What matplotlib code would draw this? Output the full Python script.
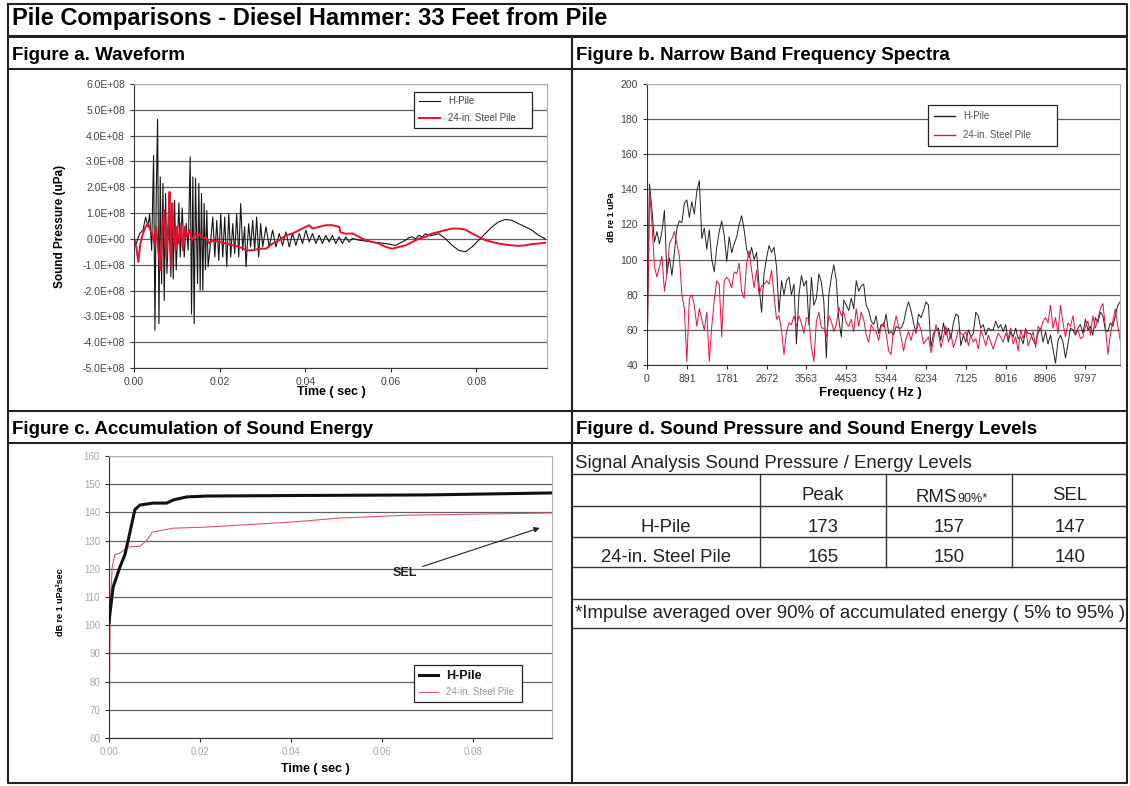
import matplotlib
matplotlib.use('Agg')
import matplotlib.pyplot as plt
import numpy as np
from matplotlib.ticker import FuncFormatter

plt.rcParams['font.family'] = ['Liberation Sans', 'DejaVu Sans']

W, H = 1130, 786

title = 'Pile Comparisons - Diesel Hammer: 33 Feet from Pile'
headers = ['Figure a. Waveform', 'Figure b. Narrow Band Frequency Spectra',
           'Figure c. Accumulation of Sound Energy',
           'Figure d. Sound Pressure and Sound Energy Levels']
series_names = ['H-Pile', '24-in. Steel Pile']

# Figure a: waveform (time in s, pressure in 1e8 uPa)
wave_t_h = [0.0, 0.00054, 0.00132, 0.0021, 0.00272, 0.00326, 0.00365, 0.00412, 0.00458, 0.00489,
            0.0052, 0.00551, 0.00583, 0.00614, 0.00645, 0.00676, 0.00707, 0.00738, 0.00769, 0.00816,
            0.00862, 0.00885, 0.00917, 0.00948, 0.00986, 0.01049, 0.0108, 0.01126, 0.01173, 0.0122,
            0.01266, 0.01313, 0.01344, 0.01375, 0.01406, 0.01437, 0.01484, 0.01515, 0.01546, 0.01577,
            0.01608, 0.01639, 0.0167, 0.01701, 0.01732, 0.01779, 0.01841, 0.01888, 0.01934, 0.01981,
            0.02027, 0.02074, 0.0212, 0.02167, 0.02214, 0.0226, 0.02307, 0.02353, 0.024, 0.02447,
            0.02493, 0.0254, 0.02586, 0.02617, 0.02679, 0.02726, 0.02773, 0.02819, 0.02866, 0.02912,
            0.02959, 0.03006, 0.03083, 0.03161, 0.03239, 0.03317, 0.03394, 0.03472, 0.0355, 0.03628,
            0.03705, 0.03783, 0.03861, 0.03938, 0.04016, 0.04094, 0.04171, 0.04249, 0.04327, 0.04404,
            0.04482, 0.0456, 0.04637, 0.04715, 0.04792, 0.0487, 0.04948, 0.05025, 0.05103, 0.05258,
            0.05569, 0.0588, 0.06113, 0.06268, 0.06346, 0.06423, 0.06501, 0.06579, 0.06656, 0.06734,
            0.06812, 0.06889, 0.06967, 0.07122, 0.07277, 0.07433, 0.07588, 0.07743, 0.07899, 0.08054,
            0.08209, 0.08365, 0.0852, 0.08675, 0.08831, 0.08986, 0.09142, 0.09297, 0.09452, 0.09608]
wave_h = [0, -0.18, 0.21, 0.34, 0.85, 0.47, 0.98, -0.44, 3.23, -3.54,
          1.76, 4.63, -3.28, 2.4, -1.73, 2.15, -2.38, 1.76, -1.34, 0.98,
          -1.47, 1.4, -1.55, 1.5, -1.2, 1.4, -0.7, 1.2, -0.7, 0.6,
          -0.44, 3.18, -2.91, 2.4, -3.28, 2.35, -1.73, 2.15, -1.99, 1.76,
          -1.99, 1.37, -1.2, 1.1, -1.08, -0.3, 0.85, -0.7, 0.72, -0.83,
          0.98, -0.7, 0.85, -1.08, 0.98, -0.7, 0.59, -0.57, 0.98, -0.7,
          1.37, -0.44, 0.47, -1.08, 0.59, -0.31, 0.72, -0.44, 0.85, -0.7,
          0.59, -0.31, 0.47, -0.31, 0.34, -0.31, 0.21, -0.25, 0.27, -0.31,
          0.21, -0.25, 0.21, -0.18, 0.34, -0.12, 0.21, -0.18, 0.14, -0.18,
          0.14, -0.12, 0.14, -0.18, 0.08, -0.18, 0.08, -0.12, 0.02, -0.05,
          -0.12, -0.18, -0.25, -0.12, -0.05, 0.05, 0.08, 0.0, 0.14, 0.08,
          0.2, 0.12, 0.14, 0.2, 0.01, -0.25, -0.44, -0.5, -0.31, -0.05,
          0.21, 0.47, 0.66, 0.75, 0.72, 0.59, 0.47, 0.34, 0.14, 0.0]

wave_t_s = [0.0, 0.00054, 0.00101, 0.00148, 0.0021, 0.00272, 0.00326, 0.00381, 0.00427, 0.00474,
            0.0052, 0.00567, 0.00614, 0.0066, 0.00707, 0.00753, 0.008, 0.00831, 0.00862, 0.00893,
            0.00924, 0.00971, 0.01002, 0.01049, 0.01095, 0.01142, 0.01188, 0.01235, 0.01297, 0.01359,
            0.01421, 0.01483, 0.01546, 0.01608, 0.01685, 0.01763, 0.01841, 0.01996, 0.02151, 0.02307,
            0.02462, 0.02617, 0.02773, 0.02928, 0.03083, 0.03239, 0.03394, 0.0355, 0.03705, 0.03861,
            0.04016, 0.04094, 0.04171, 0.04327, 0.04482, 0.04637, 0.04792, 0.04831, 0.04948, 0.05103,
            0.05258, 0.05413, 0.05569, 0.05724, 0.0588, 0.06035, 0.0619, 0.06346, 0.06501, 0.06656,
            0.06812, 0.06967, 0.07122, 0.07277, 0.07433, 0.07588, 0.07743, 0.07899, 0.08054, 0.08209,
            0.08365, 0.0852, 0.08675, 0.08831, 0.08986, 0.09142, 0.09297, 0.09452, 0.09608]
wave_s = [0, -0.31, -0.89, -0.18, 0.21, 0.47, 0.59, 0.34, 0.21, -0.18,
          0.47, -0.44, -1.21, 0.34, 1.11, -0.7, 0.59, 1.82, -1.08, 1.37,
          0.47, -0.44, 0.47, -0.18, 0.59, -0.44, 0.47, 0.08, 0.34, -0.05,
          0.21, 0.08, 0.21, 0.01, 0.08, -0.18, -0.05, -0.12, -0.18, -0.25,
          -0.31, -0.44, -0.44, -0.38, -0.38, -0.18, -0.05, 0.14, 0.21, 0.34,
          0.47, 0.53, 0.4, 0.47, 0.53, 0.53, 0.47, 0.25, 0.2, 0.21,
          0.08, -0.05, -0.12, -0.18, -0.31, -0.38, -0.31, -0.25, -0.12, 0.01,
          0.08, 0.21, 0.27, 0.34, 0.4, 0.4, 0.36, 0.21, 0.08, -0.05,
          -0.12, -0.18, -0.22, -0.25, -0.27, -0.25, -0.2, -0.18, -0.15]

# Figure b: narrow band spectra (dB re 1 uPa), one value per frequency bin
bin_hz = 890.625 / 16
spec_h = [40, 143, 128, 110, 116, 109, 116, 128, 92, 101, 91, 104, 118, 122, 121, 132, 134, 124, 133, 126,
          139, 145, 112, 118, 106, 117, 100, 93, 107, 116, 122, 114, 99, 113, 104, 109, 113, 120, 125, 117,
          106, 101, 107, 100, 104, 85, 70, 92, 101, 108, 104, 107, 96, 70, 88, 80, 88, 90, 80, 86,
          52, 80, 91, 85, 88, 63, 90, 74, 78, 92, 87, 76, 44, 80, 90, 97, 88, 66, 56, 77,
          74, 71, 78, 72, 88, 82, 85, 86, 74, 71, 65, 63, 68, 58, 63, 62, 69, 58, 59, 57,
          62, 61, 61, 64, 71, 76, 71, 64, 58, 69, 67, 71, 76, 74, 50, 58, 60, 61, 54, 64,
          57, 61, 55, 64, 69, 68, 51, 57, 53, 60, 56, 58, 70, 68, 61, 63, 57, 61, 60, 60,
          65, 61, 63, 59, 63, 53, 59, 56, 61, 55, 56, 52, 60, 58, 58, 54, 52, 58, 61, 53,
          59, 52, 57, 49, 41, 54, 57, 53, 44, 52, 61, 60, 57, 61, 63, 58, 66, 60, 62, 57,
          67, 64, 70, 68, 60, 59, 64, 62, 68, 74, 76, 70]
spec_s = [40, 140, 120, 96, 90, 96, 102, 82, 92, 109, 112, 116, 109, 102, 80, 72, 42, 78, 80, 74,
          62, 72, 66, 60, 70, 42, 62, 77, 88, 86, 56, 88, 90, 88, 84, 93, 92, 98, 82, 78,
          98, 105, 94, 84, 94, 80, 85, 86, 88, 86, 94, 80, 66, 68, 60, 46, 59, 64, 63, 68,
          62, 68, 64, 58, 67, 66, 50, 42, 65, 70, 61, 61, 56, 68, 65, 59, 63, 73, 68, 70,
          64, 62, 66, 59, 72, 62, 70, 66, 57, 53, 63, 60, 59, 54, 62, 64, 58, 48, 46, 61,
          68, 62, 56, 48, 55, 59, 54, 60, 59, 64, 60, 52, 54, 56, 47, 54, 63, 58, 50, 56,
          62, 53, 58, 50, 54, 60, 58, 57, 59, 51, 57, 53, 55, 49, 60, 56, 51, 57, 53, 49,
          54, 58, 56, 53, 58, 55, 61, 52, 56, 48, 60, 55, 61, 51, 55, 59, 50, 62, 60, 65,
          67, 64, 74, 61, 67, 58, 74, 64, 56, 64, 62, 68, 58, 60, 55, 56, 62, 65, 57, 68,
          61, 66, 72, 75, 62, 46, 57, 65, 72, 62, 54, 50]
freq_tick_labels = ['0', '891', '1781', '2672', '3563', '4453', '5344', '6234',
                    '7125', '8016', '8906', '9797']

# Figure c: accumulated sound energy (dB re 1 uPa^2 sec)
sel_t_h = [0.0, 0.0003, 0.0009, 0.0024, 0.0035, 0.0042, 0.0057, 0.0068, 0.0097, 0.0127,
           0.0141, 0.0171, 0.0215, 0.042, 0.07, 0.0974]
sel_db_h = [101, 105.4, 113.5, 120.6, 125, 130, 141, 142.6, 143.3, 143.3,
            144.4, 145.5, 145.8, 146, 146.2, 146.9]
sel_t_s = [0.0, 0.0003, 0.0007, 0.0013, 0.0024, 0.0042, 0.0068, 0.0084, 0.0095, 0.0141,
           0.0215, 0.0404, 0.0508, 0.0655, 0.0974]
sel_db_s = [60, 108, 120.6, 125, 125.6, 127.7, 128, 130.2, 133, 134.4,
            134.8, 136.6, 138, 139, 139.8]

# Figure d: table
table_title = 'Signal Analysis Sound Pressure / Energy Levels'
peak_db = [173, 165]
rms_db = [157, 150]
sel_db = [147, 140]
footnote = '*Impulse averaged over 90% of accumulated energy ( 5% to 95% )'


def rect(l, t, r, b):
    return [l / W, 1 - b / H, (r - l) / W, (b - t) / H]


def style_axes(ax, labelcolor='#444', size=7.5):
    for s in ['top', 'right']:
        ax.spines[s].set_color('#b0b0b0')
    for s in ['left', 'bottom']:
        ax.spines[s].set_color('#333')
    ax.tick_params(labelsize=size, labelcolor=labelcolor, length=3, color='#333')
    ax.yaxis.grid(True, color='#606060', lw=0.9)
    ax.set_axisbelow(True)


fig = plt.figure(figsize=(W / 100, H / 100), dpi=100)
fig.patch.set_facecolor('white')

# frame, dividers and headings drawn in pixel space
ov = fig.add_axes([0, 0, 1, 1])
ov.set_xlim(0, W)
ov.set_ylim(H, 0)
ov.axis('off')
fc = '#222'
ov.plot([8, 1127, 1127, 8, 8], [4, 4, 783, 783, 4], color=fc, lw=1.5)
ov.plot([8, 1127], [36, 36], color=fc, lw=2.2, solid_capstyle='butt')
for y in [69, 411, 443]:
    ov.plot([8, 1127], [y, y], color=fc, lw=1.5, solid_capstyle='butt')
ov.plot([571.5, 571.5], [36, 783], color=fc, lw=1.5)
ov.text(12, 19, title, fontsize=17, fontweight='bold', va='center')
for (x, y), txt in zip([(12, 55), (576, 55), (12, 429), (576, 429)], headers):
    ov.text(x, y, txt, fontsize=13.5, fontweight='bold', va='center')

# table (figure d)
for y in [474, 506, 537, 567, 599, 628]:
    ov.plot([571.5, 1127], [y, y], color='#333', lw=1.0, solid_capstyle='butt')
for x in [760, 886, 1012]:
    ov.plot([x, x], [474, 567], color='#333', lw=1.0)
tc = '#222'
fs = 13.4
ov.text(575, 463, table_title, fontsize=fs, color=tc, va='center')
ov.text(823, 496, 'Peak', fontsize=fs, color=tc, ha='center', va='center')
ov.text(957, 502, 'RMS', fontsize=fs, color=tc, ha='right', va='baseline')
ov.text(957, 502, '90%*', fontsize=9, color=tc, ha='left', va='baseline')
ov.text(1070, 496, 'SEL', fontsize=fs, color=tc, ha='center', va='center')
for i, name in enumerate(series_names):
    y = 527 + 31 * i
    ov.text(666, y, name, fontsize=fs, color=tc, ha='center', va='center')
    for x, v in zip([823, 949, 1070], [peak_db[i], rms_db[i], sel_db[i]]):
        ov.text(x, y, str(v), fontsize=fs, color=tc, ha='center', va='center')
ov.text(575, 614, footnote, fontsize=fs, color=tc, va='center')

# Figure a
axa = fig.add_axes(rect(134, 84, 547, 368))
la, = axa.plot(wave_t_h, np.array(wave_h) * 1e8, color='#151515', lw=0.8, label=series_names[0])
lb, = axa.plot(wave_t_s, np.array(wave_s) * 1e8, color='#e8102a', lw=1.4, label=series_names[1])
axa.set_xlim(0, 0.0965)
axa.set_ylim(-5e8, 6e8)
axa.set_yticks(np.arange(-5, 7) * 1e8)
axa.yaxis.set_major_formatter(FuncFormatter(lambda v, p: f'{v:.1E}'))
axa.set_xticks([0, 0.02, 0.04, 0.06, 0.08])
axa.set_xticklabels(['0.00', '0.02', '0.04', '0.06', '0.08'])
style_axes(axa)
axa.set_ylabel('Sound Pressure (uPa)', fontsize=8.5, fontweight='bold')
axa.yaxis.set_label_coords(-0.165, 0.5)
axa.set_xlabel('Time ( sec )', fontsize=9, fontweight='bold')
axa.xaxis.set_label_coords(0.479, -0.062)
lg = axa.legend(handles=[la, lb], loc='center', bbox_to_anchor=(0.666, 0.842, 0.31, 0.134),
                mode='expand', fancybox=False, edgecolor='#222', framealpha=1, fontsize=7,
                handlelength=2.2, labelspacing=0.7, borderpad=0.5)
for t in lg.get_texts():
    t.set_color('#444')
lg.get_frame().set_linewidth(0.9)

# Figure b
axb = fig.add_axes(rect(647, 84, 1120, 365))
freqs_h = np.arange(len(spec_h)) * bin_hz
freqs_s = np.arange(len(spec_s)) * bin_hz
lc, = axb.plot(freqs_h, spec_h, color='#222', lw=0.7, label=series_names[0])
ld, = axb.plot(freqs_s, spec_s, color='#e8103a', lw=0.7, label=series_names[1])
axb.set_xlim(0, 10570)
axb.set_ylim(40, 200)
axb.set_yticks(range(40, 201, 20))
axb.set_xticks([float(s) for s in freq_tick_labels])
axb.set_xticklabels(freq_tick_labels)
style_axes(axb, size=7.5)
axb.set_ylabel('dB re 1 uPa', fontsize=6.5, fontweight='bold')
axb.yaxis.set_label_coords(-0.066, 0.527)
axb.set_xlabel('Frequency ( Hz )', fontsize=9.5, fontweight='bold')
axb.xaxis.set_label_coords(0.473, -0.08)
lg = axb.legend(handles=[lc, ld], loc='center', bbox_to_anchor=(0.5835, 0.779, 0.294, 0.146),
                mode='expand', fancybox=False, edgecolor='#222', framealpha=1, fontsize=7,
                handlelength=2.2, labelspacing=0.9, borderpad=0.6)
for t in lg.get_texts():
    t.set_color('#555')
for h in lg.get_lines():
    h.set_linewidth(1.0)
lg.get_frame().set_linewidth(0.9)

# Figure c
axc = fig.add_axes(rect(109, 456, 552, 738))
le, = axc.plot(sel_t_h, sel_db_h, color='#111', lw=2.2, label=series_names[0], zorder=3)
lf, = axc.plot(sel_t_s, sel_db_s, color='#e05565', lw=0.8, label=series_names[1], zorder=2)
axc.set_xlim(0, 0.0974)
axc.set_ylim(60, 160)
axc.set_yticks(range(60, 161, 10))
axc.set_xticks([0, 0.02, 0.04, 0.06, 0.08])
axc.set_xticklabels(['0.00', '0.02', '0.04', '0.06', '0.08'])
style_axes(axc, labelcolor='#a8a8a8', size=7)
axc.set_ylabel('dB re 1 uPa\u00b2sec', fontsize=6.5, fontweight='bold')
axc.yaxis.set_label_coords(-0.1, 0.48)
axc.set_xlabel('Time ( sec )', fontsize=9, fontweight='bold')
axc.xaxis.set_label_coords(0.465, -0.09)
axc.annotate('SEL', xy=(0.0947, 134.5), xytext=(0.0651, 118.5),
             fontsize=9, fontweight='bold', ha='center', va='center', color='#222',
             arrowprops=dict(arrowstyle='-|>', color='#222', lw=0.8, mutation_scale=8,
                             shrinkA=2, shrinkB=0, relpos=(1.0, 0.9)))
lg = axc.legend(handles=[le, lf], loc='center', bbox_to_anchor=(0.677, 0.113, 0.266, 0.16),
                mode='expand', fancybox=False, edgecolor='#222', framealpha=1, fontsize=7,
                handlelength=2.0, labelspacing=0.6, borderpad=0.5)
tx = lg.get_texts()
tx[0].set_fontweight('bold')
tx[0].set_fontsize(9)
tx[0].set_color('#111')
tx[1].set_color('#999')
lg.get_frame().set_linewidth(0.9)

fig.savefig('out.png', dpi=100, facecolor='white')
